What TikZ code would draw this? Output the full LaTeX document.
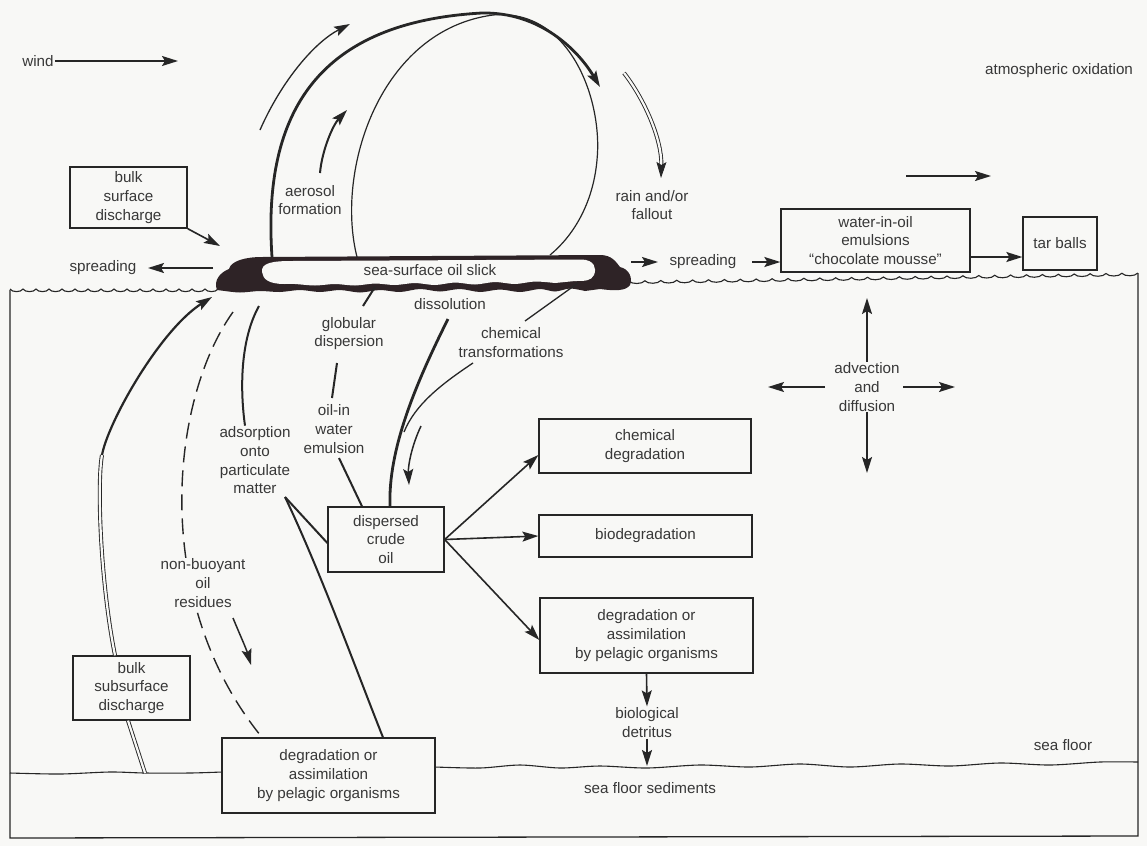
\documentclass[tikz,border=0pt]{standalone}
\usepackage{fontspec}
\setmainfont{Liberation Sans}
\usetikzlibrary{arrows.meta,calc}
\definecolor{ink}{HTML}{262626}
\definecolor{txt}{HTML}{383838}
\definecolor{oil}{HTML}{2E2326}
\definecolor{paper}{HTML}{F8F8F6}
\begin{document}
\begin{tikzpicture}[x=1pt,y=-1pt,
  lbl/.style={text=txt, font=\fontsize{15.2}{18.7}\selectfont, align=center, inner sep=1pt},
  box/.style={lbl, draw=ink, line width=1.3pt, fill=paper},
  tip/.style={-{Stealth[length=16pt,width=10pt,inset=3pt]}},
  arr/.style={draw=ink, line width=1.6pt, tip},
  thinln/.style={draw=ink, line width=1.1pt},
  medln/.style={draw=ink, line width=2pt},
  thickln/.style={draw=ink, line width=2.8pt},
  dbl/.style={draw=ink, double=paper, double distance=2.2pt, line width=0.9pt},
  dashln/.style={draw=ink, line width=1.4pt, dash pattern=on 16pt off 8pt}
]
\useasboundingbox (0,0) rectangle (1147,846);
\fill[paper] (0,0) rectangle (1147,846);

% ---------- water body outline ----------
\draw[line width=1.3pt, ink] (1138,273) -- (1138,836) -- (10,838) -- (10,290);
\draw[thinln] (10,289) \foreach \i in {1,...,16}{ .. controls +(2,3.5) and +(-2,3.5) .. ++(13,0) };
\draw[thinln] (629,281) \foreach \i in {1,...,32}{ .. controls +(2.5,3.5) and +(-2.5,3.5) .. ++(15.9,-0.25) };
% sea floor
\draw[thinln] plot[smooth] coordinates {(10,773) (60,774) (110,772) (145,773) (190,773) (222,772)};
\draw[thinln] plot[smooth] coordinates {(435,767) (480,768) (520,765) (560,768) (600,766) (647,768) (700,765) (750,767) (800,764) (850,767) (900,764) (950,766) (1000,763) (1050,765) (1100,762) (1138,762)};

% ---------- oil slick ----------
\fill[oil] (217,290) .. controls (213,280) and (221,272) .. (229,269)
  .. controls (231,261) and (245,257) .. (262,257) -- (600,255)
  .. controls (612,255) and (616,262) .. (620,267)
  .. controls (629,269) and (633,278) .. (630,285)
  .. controls (626,291) and (615,291) .. (600,289)
  -- plot[smooth] coordinates {(585,291) (570,288.5) (555,291.5) (540,289) (520,292) (500,289.5) (480,292) (460,289) (440,291.5) (420,289) (400,292) (380,290) (360,292.5) (340,290) (320,292) (300,290) (280,292) (260,291) (240,292.5) (225,291)}
  -- cycle;
\fill[paper] (262,272) .. controls (261,263) and (272,261) .. (292,261) -- (582,259.5)
  .. controls (594,260) and (597,268) .. (594,275)
  .. controls (591,281) and (585,281) .. (575,281)
  -- plot[smooth] coordinates {(555,283) (535,281.5) (515,284) (495,282) (475,284.5) (455,282.5) (435,285) (415,283) (395,285) (375,283.5) (355,285.5) (335,284) (315,285.5) (295,284) (285,284)}
  .. controls (268,284) and (263,279) .. (262,272) -- cycle;

% ---------- boxes ----------
\node[box, minimum width=117pt, minimum height=61pt] (bsd) at (128.5,197.5) {bulk\\surface\\discharge};
\node[box, minimum width=189pt, minimum height=63pt] (wio) at (875.5,240.5) {water-in-oil\\emulsions\\“chocolate mousse”};
\node[box, minimum width=74pt, minimum height=53pt] (tar) at (1060,243.5) {tar balls};
\node[box, minimum width=116pt, minimum height=65pt] (dco) at (386,539.5) {dispersed\\crude\\oil};
\node[box, minimum width=212pt, minimum height=54pt] (chem) at (645,446) {chemical\\degradation};
\node[box, minimum width=213pt, minimum height=42pt] (bio) at (645.5,536) {biodegradation};
\node[box, minimum width=213pt, minimum height=75pt] (pel) at (646.5,635.5) {degradation or\\assimilation\\by pelagic organisms};
\node[box, minimum width=117pt, minimum height=64pt] (bsub) at (131.5,688) {bulk\\subsurface\\discharge};
\node[box, minimum width=213pt, minimum height=75pt] (pel2) at (328.5,775.5) {degradation or\\assimilation\\by pelagic organisms};

% ---------- labels ----------
\node[lbl] (wind) at (38,61) {wind};
\node[lbl] (atm) at (1059,71) {atmospheric oxidation};
\node[lbl] (aer) at (310,200) {aerosol\\formation};
\node[lbl] (rain) at (652,205) {rain and/or\\fallout};
\node[lbl] (spl) at (103,268) {spreading};
\node[lbl] (slick) at (430,270) {sea-surface oil slick};
\node[lbl] (spr) at (703,262) {spreading};
\node[lbl] (diss) at (450,304) {dissolution};
\node[lbl] (glob) at (349,333.5) {globular\\dispersion};
\node[lbl] (ctr) at (511,342.5) {chemical\\transformations};
\node[lbl] (owe) at (334,429) {oil-in\\water\\emulsion};
\node[lbl] (ads) at (255,460.5) {adsorption\\onto\\particulate\\matter};
\node[lbl] (adv) at (867,387) {advection\\and\\diffusion};
\node[lbl] (sfl) at (1063,745) {sea floor};
\node[lbl] (sfs) at (650,788) {sea floor sediments};
\node[lbl] (bd) at (647,722.5) {biological\\detritus};

% ---------- free coordinates ----------
\coordinate (windend) at (178,61);
\coordinate (atm1) at (906,176);
\coordinate (atm2) at (991,176);
\coordinate (bsdend) at (220,246);
\coordinate (spl1) at (213,268);
\coordinate (spl2) at (148,268);
\coordinate (spr1) at (631,262);
\coordinate (spr2) at (658,262);
\coordinate (spr3) at (752,262);
\coordinate (advU) at (867,298);
\coordinate (advD) at (867,473);
\coordinate (advL1) at (825,387);
\coordinate (advL2) at (768,387);
\coordinate (advR1) at (903,387);
\coordinate (advR2) at (955,387);
\coordinate (arcA) at (260,130);
\coordinate (arcB) at (350,24);
\coordinate (aerA) at (320,173);
\coordinate (aerB) at (347,110);
\coordinate (domeL) at (272,257);
\coordinate (domeT) at (482,13);
\coordinate (domeR) at (600,87);
\coordinate (loopA) at (357,257);
\coordinate (loopT) at (493,15);
\coordinate (loopR) at (597,160);
\coordinate (loopB) at (550,255);
\coordinate (rainA) at (624,73);
\coordinate (rainB) at (661,178);
\coordinate (slickSW) at (212,297);
\coordinate (bsubMid) at (102,455);
\coordinate (dashA) at (233,312);
\coordinate (sinkA) at (233,618);
\coordinate (sinkB) at (251,665);
\coordinate (adsA) at (259,306);
\coordinate (vapex) at (285,497);
\coordinate (globA) at (375,287);
\coordinate (globB) at (363,306);
\coordinate (oweA) at (337,363);
\coordinate (oweB) at (332,398);
\coordinate (oweC) at (339,458);
\coordinate (dissA) at (448,319);
\coordinate (ctA) at (578,283);
\coordinate (ctB) at (525,321);
\coordinate (ctC) at (473,363);
\coordinate (ctD) at (404,432);
\coordinate (smA) at (421,426);
\coordinate (smB) at (409,485);
\coordinate (bsubfloor) at (145,773);
\coordinate (bdfloor) at (647,766);

% ---------- atmosphere ----------
\draw[arr] (wind.east) -- (windend);
\draw[arr] (atm1) -- (atm2);
\draw[draw=ink, line width=1.3pt, tip] (arcA) .. controls (282,80) and (315,42) .. (arcB);
\draw[draw=ink, line width=2pt, tip] (aerA) .. controls (322,150) and (333,125) .. (aerB);
\draw[thickln, tip] (domeL) .. controls (262,110) and (320,22) .. (domeT)
   .. controls (540,12) and (578,50) .. (domeR);
\draw[draw=ink, line width=1.2pt] (loopA) .. controls (335,170) and (380,30) .. (loopT)
   .. controls (570,8) and (603,100) .. (loopR)
   .. controls (593,205) and (572,237) .. (loopB);
\draw[dbl, -{Stealth[length=16pt,width=10pt,inset=3pt]}] (rainA) .. controls (645,100) and (662,140) .. (rainB);

% ---------- surface ----------
\draw[arr] (bsd.south east) -- (bsdend);
\draw[arr] (spl1) -- (spl2);
\draw[arr] (spr1) -- (spr2);
\draw[arr] (spr3) -- (wio.west |- spr3);
\draw[arr] ([yshift=-16.5pt]wio.east) -- ([yshift=-13.5pt]tar.west);

% ---------- advection ----------
\draw[arr] (adv.north) -- (advU);
\draw[arr] (adv.south) -- (advD);
\draw[arr] (advL1) -- (advL2);
\draw[arr] (advR1) -- (advR2);

% ---------- water column ----------
\draw[medln] (globA) -- (globB);
\draw[medln] (oweA) -- (oweB);
\draw[medln] (oweC) -- ([xshift=-24pt]dco.north);
\draw[thickln] (dissA) .. controls (415,385) and (388,450) .. ([xshift=4pt]dco.north);
\draw[thinln, line width=1.3pt] (ctA) -- (ctB);
\draw[thinln, line width=1.3pt] (ctC) .. controls (440,385) and (415,405) .. (ctD);
\draw[draw=ink, line width=1.5pt, tip] (smA) .. controls (412,445) and (408,465) .. (smB);
\draw[medln] (adsA) .. controls (240,340) and (240,390) .. ([xshift=-10pt]ads.north);
\draw[medln] (vapex) -- ([yshift=-3.5pt]dco.west);
\draw[medln] (vapex) .. controls (320,570) and (360,680) .. ([xshift=54.5pt]pel2.north);
\draw[dashln] (dashA) .. controls (170,400) and (150,600) .. ([xshift=-66.5pt]pel2.north);
\node[lbl, fill=paper] (nbr) at (203,583) {non-buoyant\\oil\\residues};
\draw[draw=ink, line width=1.5pt, tip] (sinkA) .. controls (240,635) and (246,648) .. (sinkB);

\draw[dbl] ([xshift=-16.5pt]bsub.north) .. controls (100,580) and (97,482) .. (bsubMid);
\draw[draw=ink, line width=2.2pt, tip] (bsubMid) .. controls (108,422) and (160,330) .. (slickSW);
\draw[dbl] ([xshift=-3.5pt]bsub.south) -- (bsubfloor);

\draw[arr] (dco.east) -- ([yshift=-9pt]chem.west);
\draw[arr] (dco.east) -- (bio.west);
\draw[arr] (dco.east) -- ([yshift=-4.5pt]pel.west);
\draw[arr] (pel.south) -- (bd.north);
\draw[arr] (bd.south) -- (bdfloor);
\end{tikzpicture}
\end{document}
